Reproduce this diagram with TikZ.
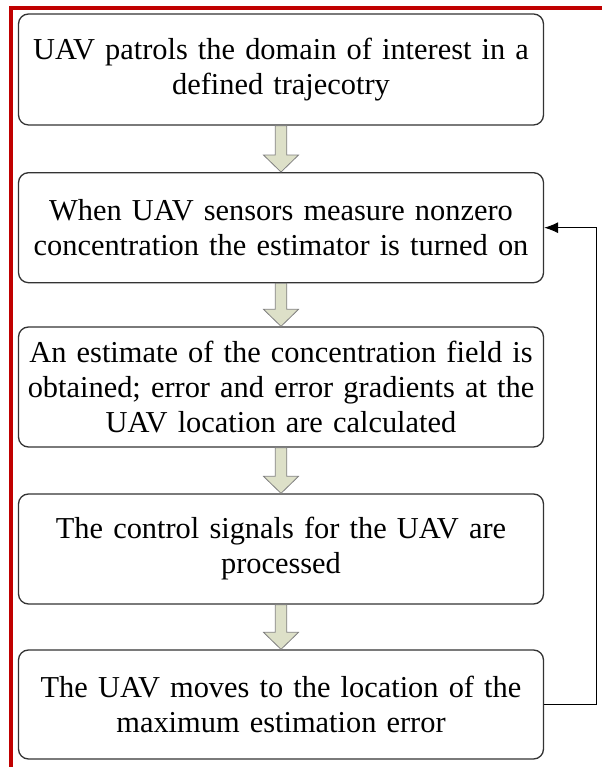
\documentclass[tikz,border=0pt]{standalone}
\usepackage{fontspec}
\setmainfont{Liberation Serif}
\usetikzlibrary{calc,arrows.meta}
\definecolor{frame}{HTML}{C00000}
\definecolor{arrfill}{HTML}{DDE0C8}
\definecolor{boxline}{HTML}{333333}
\tikzset{
  stepbox/.style={draw=boxline, line width=1.3pt, rounded corners=10pt, minimum width=525pt,
    text width=525pt, align=center, inner sep=0pt, font=\fontsize{30.4}{35}\selectfont},
  flowarrow/.style={fill=arrfill, draw=gray, line width=0.8pt, line join=miter},
  feedback/.style={draw=black, line width=1pt, -{Latex[length=14pt,width=11pt]}}
}
\begin{document}
\begin{tikzpicture}[x=1pt,y=1pt]
\useasboundingbox (0,0) rectangle (602,767);
\draw[frame, line width=4pt] (11,0) -- (11,759) -- (602,759);
\node[stepbox, minimum height=111pt] (b1) at (281,697.5) {UAV patrols the domain of interest in a\\defined trajecotry};
\node[stepbox, minimum height=110pt] (b2) at (281,539.3) {When UAV sensors measure nonzero\\concentration the estimator is turned on};
\node[stepbox, minimum height=120pt] (b3) at (281,380) {An estimate of the concentration field is\\obtained; error and error gradients at the\\UAV location are calculated};
\node[stepbox, minimum height=110pt] (b4) at (281,218) {The control signals for the UAV are\\processed};
\node[stepbox, minimum height=109pt] (b5) at (281,62.5) {The UAV moves to the location of the\\maximum estimation error};
\foreach \a/\b in {b1/b2,b2/b3,b3/b4,b4/b5}{
  \draw[flowarrow] ($(\a.south)+(-5.75,0)$) -- ($(\a.south)+(5.75,0)$)
    -- ($(\b.north)+(5.75,17)$) -- ($(\b.north)+(17.5,17)$) -- (\b.north)
    -- ($(\b.north)+(-17.5,17)$) -- ($(\b.north)+(-5.75,17)$) -- cycle;
}
\coordinate (fb) at (596.5,0);
\draw[feedback] (b5.east) -- (b5.east -| fb) -- (b2.east -| fb) -- (b2.east);
\end{tikzpicture}
\end{document}
